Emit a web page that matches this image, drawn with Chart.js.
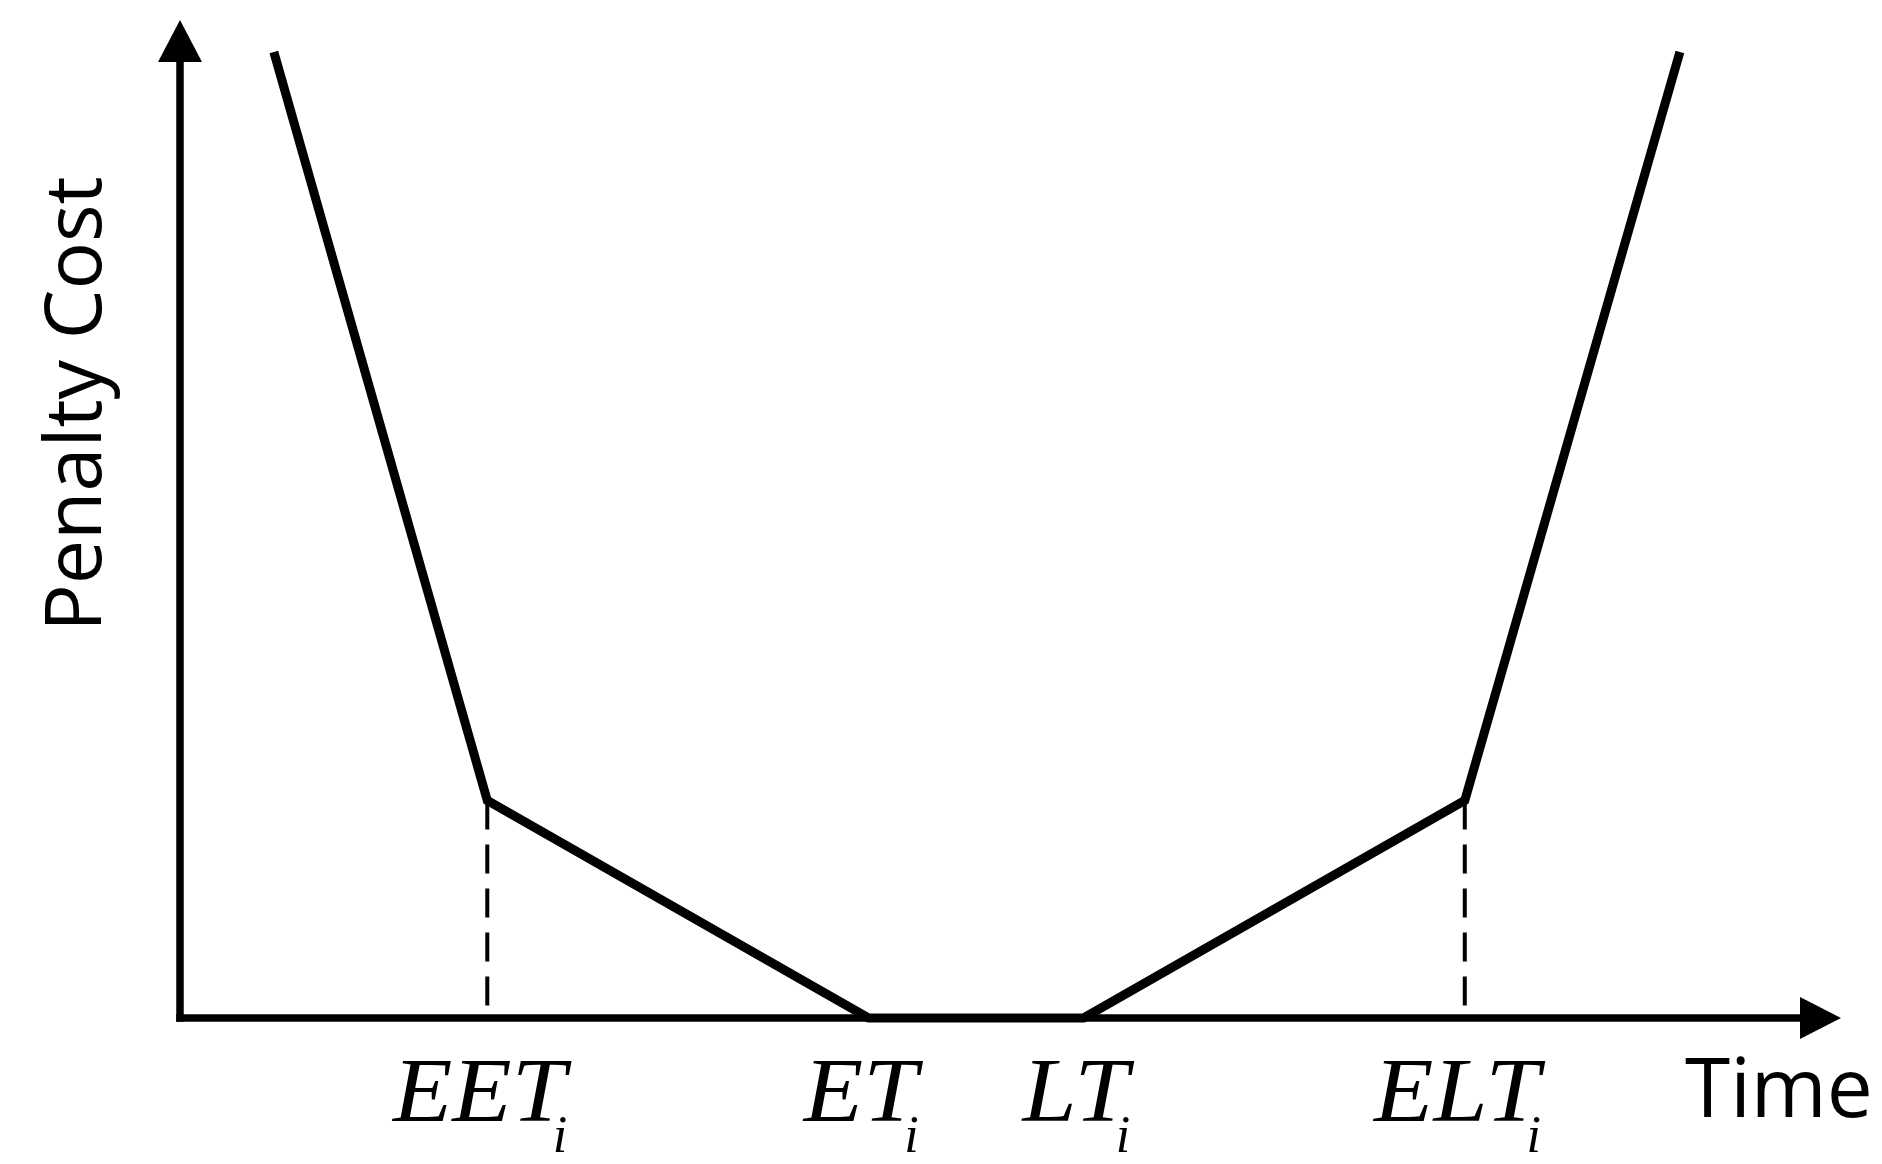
<!DOCTYPE html>
<html lang="en">
<head>
    <meta charset="UTF-8">
    <title>Penalty Cost vs Time</title>
    <script src="https://cdn.jsdelivr.net/npm/chart.js"></script>
    <style>
        html, body { margin: 0; padding: 0; background: #fff; }
        canvas { display: block; }
    </style>
</head>
<body>
    <canvas id="penaltyChart" width="1882" height="1164"></canvas>

    <script>
        // piecewise penalty curve (time units, cost units)
        const times = [1.13, 3.70, 8.29, 10.88, 15.47, 18.06];
        const costs = [9.68, 2.18, 0, 0, 2.18, 9.68];

        // breakpoints that get a dashed drop line
        const dropTimes = [3.70, 15.47];
        const dropCosts = [2.18, 2.18];

        // x-axis labels: main text + subscript
        const tickTimes = [3.70, 8.29, 10.88, 15.47];
        const tickLabels = ['EET', 'ET', 'LT', 'ELT'];
        const tickSubs = ['i', 'i', 'i', 'i'];

        const xTitle = 'Time';
        const yTitle = 'Penalty Cost';

        const curve = times.map((t, i) => ({ x: t, y: costs[i] }));
        const drops = dropTimes.map((t, i) => ({
            data: [{ x: t, y: dropCosts[i] }, { x: t, y: 0 }],
            borderColor: '#000',
            borderWidth: 4,
            borderDash: [29, 15],
            pointRadius: 0,
            showLine: true,
            clip: false
        }));

        const axesPlugin = {
            id: 'arrowAxes',
            beforeDatasetsDraw(chart) {
                const ctx = chart.ctx;
                const xs = chart.scales.x, ys = chart.scales.y;
                const x0 = xs.getPixelForValue(0), y0 = ys.getPixelForValue(0);
                const xEnd = xs.getPixelForValue(xs.max), yEnd = ys.getPixelForValue(ys.max);
                ctx.save();
                ctx.strokeStyle = '#000';
                ctx.fillStyle = '#000';
                ctx.lineWidth = 7.5;
                ctx.lineCap = 'butt';
                // x axis
                ctx.beginPath();
                ctx.moveTo(x0 - 3.75, y0);
                ctx.lineTo(xEnd - 40, y0);
                ctx.stroke();
                ctx.beginPath();
                ctx.moveTo(xEnd - 41, y0 - 21);
                ctx.lineTo(xEnd, y0);
                ctx.lineTo(xEnd - 41, y0 + 21);
                ctx.closePath();
                ctx.fill();
                // y axis
                ctx.beginPath();
                ctx.moveTo(x0, y0 + 3.75);
                ctx.lineTo(x0, yEnd + 41);
                ctx.stroke();
                ctx.beginPath();
                ctx.moveTo(x0 - 22, yEnd + 42);
                ctx.lineTo(x0, yEnd);
                ctx.lineTo(x0 + 22, yEnd + 42);
                ctx.closePath();
                ctx.fill();
                ctx.restore();
            },
            afterDraw(chart) {
                const ctx = chart.ctx;
                const xs = chart.scales.x, ys = chart.scales.y;
                const y0 = ys.getPixelForValue(0);
                const stretch = 1.08;
                ctx.save();
                ctx.fillStyle = '#000';
                ctx.textBaseline = 'alphabetic';
                tickTimes.forEach((t, i) => {
                    const px = xs.getPixelForValue(t);
                    ctx.font = 'italic 90px "Liberation Serif", serif';
                    const w = ctx.measureText(tickLabels[i]).width * stretch;
                    const left = px - w / 2 - 8;
                    ctx.save();
                    ctx.translate(left, y0 + 103);
                    ctx.scale(stretch, 1);
                    ctx.fillText(tickLabels[i], 0, 0);
                    ctx.restore();
                    ctx.font = 'italic 52px "Liberation Serif", serif';
                    ctx.fillText(tickSubs[i], left + w - 13, y0 + 134);
                });
                // axis titles
                ctx.font = '82px "Open Sans", sans-serif';
                ctx.fillText(xTitle, 1685, y0 + 99);
                ctx.translate(101, 404);
                ctx.rotate(-Math.PI / 2);
                ctx.textAlign = 'center';
                ctx.font = '79px "Open Sans", sans-serif';
                ctx.fillText(yTitle, 0, 0);
                ctx.restore();
            }
        };

        new Chart(document.getElementById('penaltyChart'), {
            type: 'scatter',
            data: {
                datasets: [{
                    data: curve,
                    borderColor: '#000',
                    borderWidth: 9,
                    borderCapStyle: 'butt',
                    borderJoinStyle: 'miter',
                    pointRadius: 0,
                    showLine: true,
                    clip: false
                }, ...drops]
            },
            options: {
                responsive: false,
                devicePixelRatio: 1,
                animation: false,
                layout: { padding: { left: 180, right: 41, top: 20, bottom: 146 } },
                scales: {
                    x: { type: 'linear', min: 0, max: 20, display: false },
                    y: { type: 'linear', min: 0, max: 10, display: false }
                },
                plugins: {
                    legend: { display: false },
                    tooltip: { enabled: false }
                }
            },
            plugins: [axesPlugin]
        });
    </script>
</body>
</html>
